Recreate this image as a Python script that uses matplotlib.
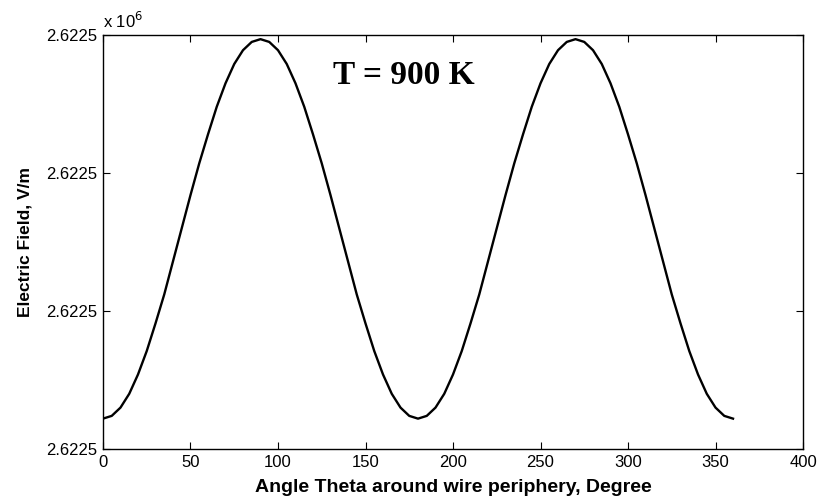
import numpy as np
import matplotlib.pyplot as plt

# Angle around the wire (degrees) and field.
# Field given as offset from the bottom of the axis, in y-tick steps.
theta = [0, 5, 10, 15, 20, 25, 30, 35, 40, 45, 50, 55, 60, 65, 70, 75, 80, 85, 90,
         95, 100, 105, 110, 115, 120, 125, 130, 135, 140, 145, 150, 155, 160, 165, 170, 175, 180,
         185, 190, 195, 200, 205, 210, 215, 220, 225, 230, 235, 240, 245, 250, 255, 260, 265, 270,
         275, 280, 285, 290, 295, 300, 305, 310, 315, 320, 325, 330, 335, 340, 345, 350, 355, 360]
field = [0.22, 0.24, 0.30, 0.40, 0.54, 0.71, 0.91, 1.12, 1.36, 1.60, 1.84, 2.07, 2.28, 2.48, 2.65, 2.79, 2.89, 2.95, 2.97,
         2.95, 2.89, 2.79, 2.65, 2.48, 2.28, 2.07, 1.84, 1.60, 1.36, 1.12, 0.91, 0.71, 0.54, 0.40, 0.30, 0.24, 0.22,
         0.24, 0.30, 0.40, 0.54, 0.71, 0.91, 1.12, 1.36, 1.60, 1.84, 2.07, 2.28, 2.48, 2.65, 2.79, 2.89, 2.95, 2.97,
         2.95, 2.89, 2.79, 2.65, 2.48, 2.28, 2.07, 1.84, 1.60, 1.36, 1.12, 0.91, 0.71, 0.54, 0.40, 0.30, 0.24, 0.22]
ytick_pos = [0, 1, 2, 3]
ytick_lab = ["2.6225", "2.6225", "2.6225", "2.6225"]

plt.rcParams['font.family'] = ['Liberation Sans', 'DejaVu Sans']

fig = plt.figure(figsize=(8.18, 5.01), dpi=100)
ax = fig.add_axes([0.1259, 0.1038, 0.8558, 0.8263])

ax.plot(theta, field, color="black", linewidth=1.7)

ax.set_xlim(0, 400)
ax.set_ylim(0, 3)
ax.set_xticks(np.arange(0, 401, 50))
ax.set_yticks(ytick_pos)
ax.set_yticklabels(ytick_lab)
ax.tick_params(direction="in", length=5, width=0.8, top=True, right=True, labelsize=12, pad=4)
for s in ax.spines.values():
    s.set_linewidth(1.0)

ax.set_xlabel("Angle Theta around wire periphery, Degree", fontsize=14, fontweight="bold", labelpad=7)
ax.set_ylabel("Electric Field, V/m", fontsize=12.5, fontweight="bold", labelpad=10)

# exponent multiplier like MATLAB
ax.text(0.0, 1.01, r"x 10$^{6}$", transform=ax.transAxes, fontsize=12, ha="left", va="bottom")

ax.text(131.5, 2.71, "T = 900 K", fontsize=24, fontweight="bold", family="Liberation Serif",
        ha="left", va="center")

fig.savefig("out.png", dpi=100)
